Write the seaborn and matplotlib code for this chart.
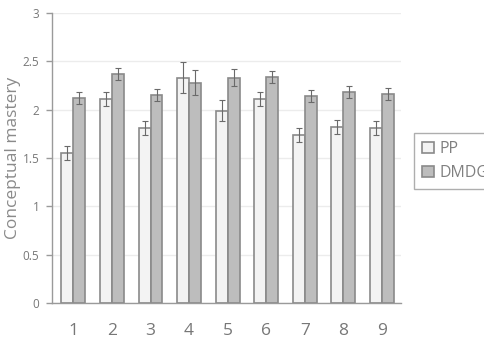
import matplotlib
matplotlib.use("Agg")
import matplotlib.pyplot as plt
import seaborn as sns
import pandas as pd
import numpy as np

objectives = ["1", "2", "3", "4", "5", "6", "7", "8", "9"]
pp_values = [1.55, 2.11, 1.81, 2.33, 1.99, 2.11, 1.74, 1.82, 1.81]
pp_errors = [0.07, 0.07, 0.07, 0.16, 0.11, 0.07, 0.07, 0.07, 0.07]
dm_values = [2.12, 2.37, 2.15, 2.28, 2.33, 2.34, 2.14, 2.18, 2.16]
dm_errors = [0.06, 0.06, 0.06, 0.13, 0.09, 0.06, 0.06, 0.06, 0.06]
groups = ["PP", "DMDGC"]

df = pd.DataFrame({
    "objective": objectives * 2,
    "value": pp_values + dm_values,
    "err": pp_errors + dm_errors,
    "group": [groups[0]] * len(objectives) + [groups[1]] * len(objectives),
})

sns.set_theme(style="white")
plt.rcParams['font.family'] = ['Open Sans', 'DejaVu Sans']

fig = plt.figure(figsize=(4.84, 3.41), dpi=100)
ax = fig.add_axes([0.107, 0.111, 0.722, 0.851])

palette = {"PP": "#f3f3f3", "DMDGC": "#bdbdbd"}
sns.barplot(data=df, x="objective", y="value", hue="group", hue_order=groups,
            order=objectives, palette=palette, errorbar=None, width=0.62,
            edgecolor="#8a8a8a", linewidth=1.2, ax=ax, zorder=2)

# error bars at bar centres
for container, g in zip(ax.containers, groups):
    sub = df[df["group"] == g]
    xs = [p.get_x() + p.get_width() / 2 for p in container.patches]
    ax.errorbar(xs, sub["value"].values, yerr=sub["err"].values, fmt="none",
                ecolor="#6a6a6a", elinewidth=0.8, capsize=2, capthick=0.8, zorder=3)

ax.set_ylim(0, 3)
ax.set_xlim(-0.56, 8.5)
ax.set_yticks([0, 0.5, 1, 1.5, 2, 2.5, 3])
ax.set_yticklabels(["0", "0.5", "1", "1.5", "2", "2.5", "3"])
ax.yaxis.grid(True, color="#ececec", linewidth=1)
ax.set_axisbelow(True)
for s in ["top", "right"]:
    ax.spines[s].set_visible(False)
ax.spines["left"].set_color("#9a9a9a")
ax.spines["bottom"].set_color("#9a9a9a")
ax.spines["left"].set_linewidth(1)
ax.spines["bottom"].set_linewidth(1)
ax.tick_params(axis="y", left=True, length=4, width=1, color="#9a9a9a",
               labelsize=8.5, labelcolor="#777777", pad=5)
ax.tick_params(axis="x", bottom=False, labelsize=12.5, labelcolor="#777777", pad=8)

ax.set_ylabel("Conceptual mastery", fontsize=12.5, color="#8a8a8a", labelpad=1)
ax.set_xlabel("Learning objectives", fontsize=12, color="#8a8a8a", labelpad=11)

leg = ax.legend(loc="center left", bbox_to_anchor=(1.015, 0.49), frameon=True,
                fontsize=11.5, handlelength=0.75, handleheight=0.75,
                handletextpad=0.3, borderpad=0.5, labelspacing=0.5,
                fancybox=False, edgecolor="#9a9a9a")
leg.get_frame().set_linewidth(1)
for t in leg.get_texts():
    t.set_color("#808080")

fig.savefig("out.png", dpi=100)
